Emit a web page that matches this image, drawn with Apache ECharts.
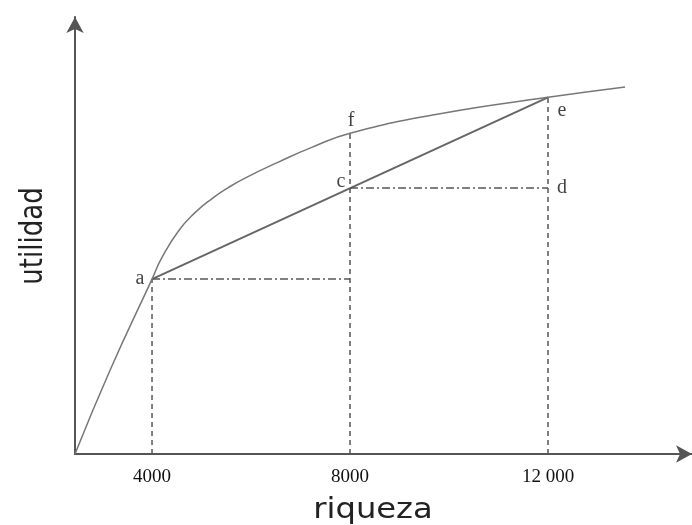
<!DOCTYPE html>
<html>
<head>
<meta charset="utf-8">
<script src="https://cdn.jsdelivr.net/npm/echarts@6/dist/echarts.min.js"></script>
<style>html,body{margin:0;padding:0;background:#fff}#c{width:692px;height:525px}</style>
</head>
<body>
<div id="c"></div>
<script>
// wealth values (riqueza)
const curveX = [2444, 3152, 4000, 4196, 4531, 4869, 5206, 5541, 5879, 6552, 7226, 8000, 9818, 12000, 13556];
// utility values (utilidad)
const curveY = [0, 19.4, 40.5, 45.4, 51.6, 55.9, 59.1, 61.7, 63.9, 67.6, 71.0, 74.3, 78.8, 82.6, 85.0];
const tickValues = [4000, 8000, 12000];
const tickLabels = ['4000', '8000', '12 000'];
const pointNames = ['a', 'c', 'd', 'e', 'f'];
const pointX = [4000, 8000, 12000, 12000, 8000];
const pointY = [40.5, 61.6, 61.6, 82.6, 74.3];

const P = {};
pointNames.forEach((n, i) => P[n] = [pointX[i], pointY[i]]);

const xMin = 2444, xMax = 14909;
const gray = '#555';
const dashed = [5, 4];
const dashDot = [8, 3, 2, 3];

function seg(data, type, width, color) {
  return {type: 'line', data: data, symbol: 'none', silent: true,
    lineStyle: {type: type, width: width, color: color}, z: 2};
}

const labelOffsets = {a: [-12, 0], c: [-9, -6], d: [14, 0], e: [14, 13], f: [1, -12]};

const chart = echarts.init(document.getElementById('c'));
chart.setOption({
  animation: false,
  grid: {left: 75, right: 0, top: 17, bottom: 71},
  xAxis: {
    type: 'value', min: xMin, max: xMax,
    splitLine: {show: false},
    axisLine: {lineStyle: {color: gray, width: 2}, symbol: ['none', 'arrow'], symbolSize: [13, 16]},
    axisTick: {show: false},
    axisLabel: {customValues: tickValues, color: '#111', fontFamily: 'Liberation Serif', fontSize: 19, margin: 14,
      formatter: v => tickLabels[tickValues.indexOf(v)] || ''}
  },
  yAxis: {
    type: 'value', min: 0, max: 101.2,
    splitLine: {show: false},
    axisLine: {lineStyle: {color: gray, width: 2}, symbol: ['none', 'arrow'], symbolSize: [13, 16]},
    axisTick: {show: false},
    axisLabel: {show: false}
  },
  series: [
    {type: 'line', data: curveX.map((x, i) => [x, curveY[i]]), smooth: 0.5, symbol: 'none',
      lineStyle: {color: '#777', width: 1.5}, z: 3},
    seg([P.a, P.e], 'solid', 2, '#666'),
    seg([[4000, 0], P.a], dashed, 1.5, '#555'),
    seg([[8000, 0], P.f], dashed, 1.5, '#555'),
    seg([[12000, 0], P.e], dashed, 1.5, '#555'),
    seg([P.a, [8000, P.a[1]]], dashDot, 1.5, '#555'),
    seg([P.c, P.d], dashDot, 1.5, '#555'),
    {type: 'scatter', symbolSize: 0, silent: true, z: 5,
      data: pointNames.map(n => ({name: n, value: P[n]})),
      label: {show: true, position: 'inside', formatter: p => p.name,
        fontFamily: 'Liberation Serif', fontSize: 20, color: '#111'},
      labelLayout: p => {
        const n = pointNames[p.dataIndex];
        const o = labelOffsets[n];
        return {x: p.rect.x + p.rect.width / 2 + o[0], y: p.rect.y + p.rect.height / 2 + o[1], align: 'center', verticalAlign: 'middle'};
      }}
  ],
  graphic: [
    {type: 'text', x: 373, y: 511, scaleX: 1.15,
      style: {text: 'riqueza', font: '28px "DejaVu Sans"', fill: '#222', align: 'center', verticalAlign: 'middle'}},
    {type: 'text', x: 34, y: 236, rotation: Math.PI / 2, scaleY: 1.2,
      style: {text: 'utilidad', font: '26px "DejaVu Sans"', fill: '#222', align: 'center', verticalAlign: 'middle'}}
  ]
});
</script>
</body>
</html>
